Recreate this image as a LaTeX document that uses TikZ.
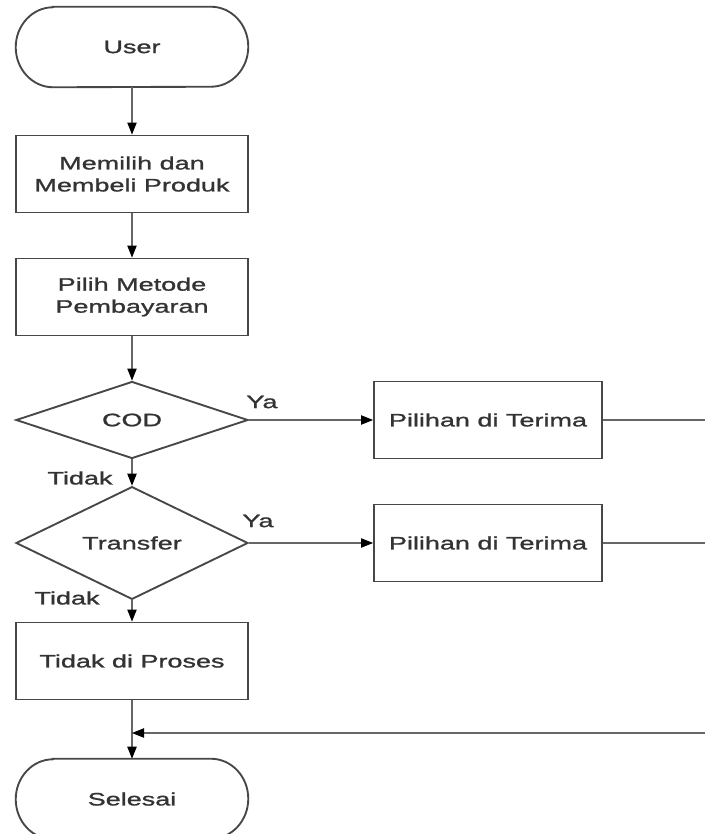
\documentclass[tikz,border=0pt]{standalone}
\usepackage{fontspec}
\setmainfont[FakeStretch=1.5,FakeBold=1.2]{Liberation Sans}
\usetikzlibrary{shapes.geometric,arrows.meta}
\begin{document}
\begin{tikzpicture}[x=0.75pt,y=-0.75pt,
  every node/.style={font=\fontsize{13.5}{16.5}\selectfont, text=black!80},
  box/.style={draw=black!72, line width=1.4pt, minimum width=174pt, minimum height=57.75pt, align=center, inner sep=0pt},
  term/.style={minimum width=174pt, minimum height=60pt, inner sep=0pt},
  outl/.style={draw=black!72, line width=1.4pt},
  dec/.style={diamond, draw=black!72, line width=1.4pt, minimum width=174pt, minimum height=57.75pt, inner sep=0pt},
  conn/.style={draw=black!60, line width=0.8pt},
  arr/.style={conn, -{Triangle[length=9pt,width=7pt,color=black]}},
  lbl/.style={inner sep=0pt}
]
\useasboundingbox[fill=white] (0,0) rectangle (705,834);

\node[term] (user) at (132,47) {User};
\draw[outl] ([xshift=28pt]user.north west) -- ([xshift=-28pt]user.north east)
  arc[start angle=90,end angle=-90,x radius=28pt,y radius=30pt]
  -- ([xshift=28pt]user.south west)
  arc[start angle=270,end angle=90,x radius=28pt,y radius=30pt] -- cycle;

\node[box] (m1) at (132,174) {Memilih dan\\Membeli Produk};
\node[box] (m2) at (132,297) {Pilih Metode\\Pembayaran};
\node[dec] (cod) at (132,420) {COD};
\node[box, minimum width=171pt] (p1) at (488,420) {Pilihan di Terima};
\node[dec] (tr) at (132,543) {Transfer};
\node[box, minimum width=171pt] (p2) at (488,543) {Pilihan di Terima};
\node[box] (tdp) at (132,661) {Tidak di Proses};

\node[term] (sel) at (132,799) {Selesai};
\draw[outl] ([xshift=28pt]sel.north west) -- ([xshift=-28pt]sel.north east)
  arc[start angle=90,end angle=-90,x radius=28pt,y radius=30pt]
  -- ([xshift=28pt]sel.south west)
  arc[start angle=270,end angle=90,x radius=28pt,y radius=30pt] -- cycle;

\node[lbl] (ya1) at (262,402) {Ya};
\node[lbl] (ya2) at (258,521) {Ya};
\node[lbl] (td1) at (80,478) {Tidak};
\node[lbl] (td2) at (67,598) {Tidak};

\coordinate (r1) at (705,420);
\coordinate (r2) at (705,543);
\coordinate (r3) at (705,733);

\draw[arr] (user.south) -- (m1.north);
\draw[arr] (m1.south) -- (m2.north);
\draw[arr] (m2.south) -- (cod.north);
\draw[arr] (cod.east) -- (p1.west);
\draw[arr] (cod.south) -- (tr.north);
\draw[arr] (tr.east) -- (p2.west);
\draw[arr] (tr.south) -- (tdp.north);
\draw[arr] (tdp.south) -- (sel.north);
\draw[conn] (p1.east) -- (r1);
\draw[conn] (p2.east) -- (r2);
\draw[arr] (r3) -- (r3 -| tdp.south);
\end{tikzpicture}
\end{document}
